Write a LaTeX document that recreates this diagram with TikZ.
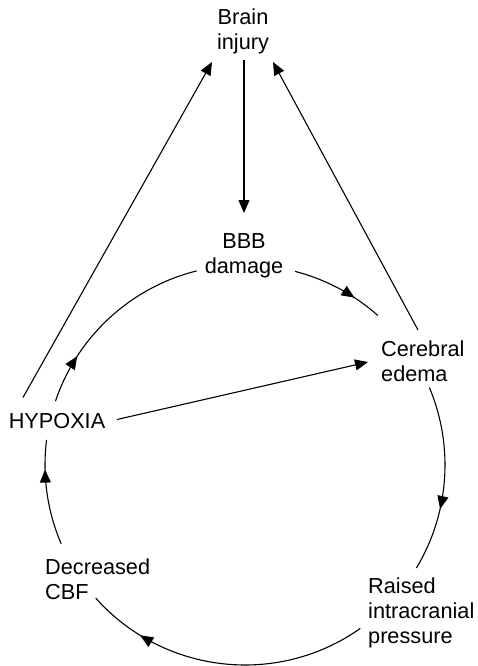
\documentclass[tikz,border=0pt]{standalone}
\usepackage{fontspec}
\setmainfont{Liberation Sans}
\usetikzlibrary{arrows.meta, decorations.markings}
\tikzset{
	>={Triangle[length=13pt, width=11pt]},
	every node/.style={inner sep=0pt, font=\fontsize{21.7}{25}\selectfont},
	link/.style={->, line width=1.1pt},
	cyc/.style={line width=1.1pt, postaction={decorate, decoration={markings, mark=at position #1 with {\arrow{>}}}}}
}
\begin{document}
\begin{tikzpicture}[x=1pt, y=-1pt]
	\useasboundingbox (0,0) rectangle (477,666);
	\coordinate (ctr) at (245,465);

	\node[align=center] (brain) at (243,31) {Brain\\injury};
	\node[align=center] (bbb) at (244,256) {BBB\\damage};
	\node[align=left, anchor=west] (edema) at (381,361) {Cerebral\\edema};
	\node (hypoxia) at (57,421.5) {HYPOXIA};
	\node[align=left, anchor=west] (cbf) at (45,579) {Decreased\\CBF};
	\node[align=left, anchor=west] (icp) at (368,613) {Raised\\intracranial\\pressure};

%	straight links
	\draw[link] ([xshift=1pt, yshift=-29pt]brain.center) -- ([yshift=43pt]bbb.center);
	\draw[link] ([xshift=-34pt, yshift=24pt]hypoxia.center) -- ([xshift=-31pt, yshift=-31pt]brain.center);
	\draw[link] ([xshift=37pt, yshift=31pt]edema.west) -- ([xshift=30pt, yshift=-31pt]brain.center);
	\draw[link] ([xshift=60pt, yshift=2pt]hypoxia.center) -- ([xshift=-13pt, yshift=-1pt]edema.west);

%	the vicious circle
	\draw[cyc=0.69] ([shift={(75.5:200pt)}]ctr) arc[start angle=75.5, end angle=48.4, radius=200pt];
	\draw[cyc=0.66] ([shift={(22.8:200pt)}]ctr) arc[start angle=22.8, end angle=-31, radius=200pt];
	\draw[cyc=0.80] ([shift={(-54.8:200pt)}]ctr) arc[start angle=-54.8, end angle=-138.3, radius=200pt];
	\draw[cyc=0.72] ([shift={(203.2:200pt)}]ctr) arc[start angle=203.2, end angle=172.8, radius=200pt];
	\draw[cyc=0.25] ([shift={(161.4:200pt)}]ctr) arc[start angle=161.4, end angle=104, radius=200pt];
\end{tikzpicture}
\end{document}
